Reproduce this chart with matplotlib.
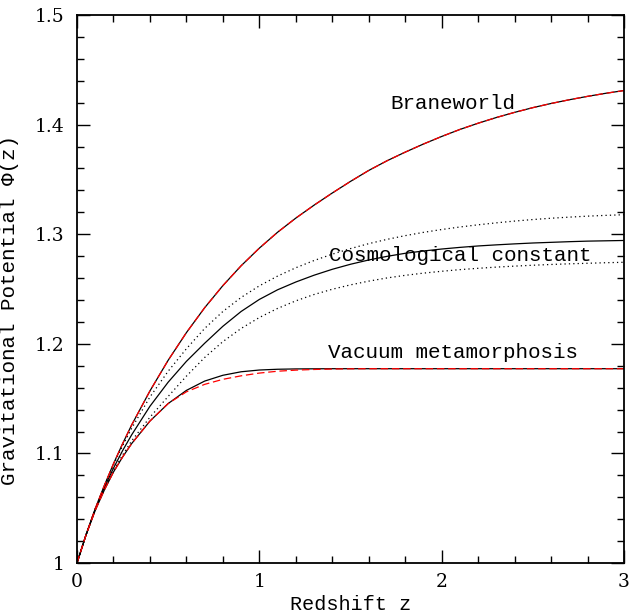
import matplotlib

matplotlib.use("Agg")

import matplotlib.pyplot as plt
from matplotlib.ticker import MultipleLocator


# redshift grid the curves were read on (finer near z = 0 where they bend most)
z = [0.0, 0.05, 0.1, 0.15, 0.2, 0.25, 0.3, 0.4, 0.5, 0.6, 0.7, 0.8, 0.9, 1.0,
     1.1, 1.2, 1.3, 1.4, 1.5, 1.6, 1.7, 1.8, 1.9, 2.0,
     2.1, 2.2, 2.3, 2.4, 2.5, 2.6, 2.7, 2.8, 2.9, 3.0]

braneworld = [1.0000, 1.0259, 1.0495, 1.0707, 1.0905, 1.1088, 1.1260, 1.1570, 1.1850, 1.2102, 1.2329,
              1.2531, 1.2712, 1.2873, 1.3018, 1.3147, 1.3265, 1.3376, 1.3482, 1.3582, 1.3670,
              1.3749, 1.3823, 1.3892, 1.3956, 1.4013, 1.4065, 1.4112, 1.4155, 1.4193, 1.4227,
              1.4258, 1.4286, 1.4311]

lcdm_upper = [1.0000, 1.0259, 1.0495, 1.0703, 1.0895, 1.1069, 1.1230, 1.1515, 1.1750, 1.1955, 1.2140,
              1.2295, 1.2423, 1.2529, 1.2618, 1.2694, 1.2760, 1.2818, 1.2869, 1.2914, 1.2953,
              1.2987, 1.3017, 1.3043, 1.3066, 1.3086, 1.3104, 1.3120, 1.3134, 1.3146, 1.3156,
              1.3165, 1.3172, 1.3178]

lcdm = [1.0000, 1.0259, 1.0490, 1.0689, 1.0865, 1.1025, 1.1170, 1.1430, 1.1650, 1.1840, 1.2005,
        1.2160, 1.2295, 1.2405, 1.2493, 1.2564, 1.2626, 1.2680, 1.2726, 1.2765, 1.2798,
        1.2826, 1.2847, 1.2865, 1.2880, 1.2893, 1.2903, 1.2912, 1.2920, 1.2926, 1.2932,
        1.2937, 1.2940, 1.2943]

lcdm_lower = [1.0000, 1.0259, 1.0485, 1.0673, 1.0840, 1.0985, 1.1115, 1.1330, 1.1520, 1.1705, 1.1875,
              1.2020, 1.2140, 1.2240, 1.2323, 1.2392, 1.2450, 1.2498, 1.2538, 1.2572, 1.2601,
              1.2625, 1.2645, 1.2662, 1.2677, 1.2689, 1.2700, 1.2709, 1.2717, 1.2724, 1.2730,
              1.2735, 1.2740, 1.2744]

vacuum = [1.0000, 1.0258, 1.0480, 1.0666, 1.0830, 1.0967, 1.1090, 1.1295, 1.1455, 1.1575, 1.1660,
          1.1713, 1.1745, 1.1761, 1.1768, 1.1771, 1.1772, 1.1773, 1.1773, 1.1773, 1.1773,
          1.1773, 1.1773, 1.1773, 1.1773, 1.1773, 1.1773, 1.1773, 1.1773, 1.1773, 1.1773,
          1.1773, 1.1773, 1.1773]

vacuum_fit = [1.0000, 1.0258, 1.0480, 1.0666, 1.0830, 1.0967, 1.1090, 1.1295, 1.1455, 1.1562, 1.1630,
              1.1676, 1.1708, 1.1733, 1.1750, 1.1760, 1.1766, 1.1770, 1.1772, 1.1773, 1.1773,
              1.1773, 1.1773, 1.1773, 1.1773, 1.1773, 1.1773, 1.1773, 1.1773, 1.1773, 1.1773,
              1.1773, 1.1773, 1.1773]

labels = ["Braneworld", "Cosmological constant", "Vacuum metamorphosis"]
label_pos = [(2.06, 1.419), (2.10, 1.281), (2.06, 1.1925)]

LABEL_FONT = ["Liberation Mono", "DejaVu Sans Mono"]
TICK_FONT = ["DejaVu Serif"]

plt.rcParams["font.family"] = TICK_FONT

fig = plt.figure(figsize=(6.3, 6.16), dpi=100)
ax = fig.add_axes([0.1222, 0.086, 0.8683, 0.8896])

ax.plot(z, lcdm_upper, color="black", lw=0.9, linestyle=(0, (1, 2.5)))
ax.plot(z, lcdm_lower, color="black", lw=0.9, linestyle=(0, (1, 2.5)))
ax.plot(z, lcdm, color="black", lw=0.9)
ax.plot(z, braneworld, color="black", lw=0.9)
ax.plot(z, braneworld, color="red", lw=0.9, dashes=(6, 3))
ax.plot(z, vacuum, color="black", lw=0.9)
ax.plot(z, vacuum_fit, color="red", lw=0.9, dashes=(6, 3))

for text, (tx, ty) in zip(labels, label_pos):
    ax.text(tx, ty, text, ha="center", va="center", fontsize=15, family=LABEL_FONT)

ax.set_xlim(0, 3)
ax.set_ylim(1, 1.5)
ax.xaxis.set_major_locator(MultipleLocator(1))
ax.xaxis.set_minor_locator(MultipleLocator(0.2))
ax.yaxis.set_minor_locator(MultipleLocator(0.02))
ax.set_yticks([1, 1.1, 1.2, 1.3, 1.4, 1.5])
ax.set_yticklabels(["1", "1.1", "1.2", "1.3", "1.4", "1.5"])

ax.tick_params(which="both", direction="in", top=True, right=True, labelsize=13.5, width=1.0)
ax.tick_params(which="major", length=9.5)
ax.tick_params(which="minor", length=5)
ax.tick_params(axis="x", pad=7)
ax.tick_params(axis="y", pad=9)
for spine in ax.spines.values():
    spine.set_linewidth(1.3)

ax.set_xlabel("Redshift z", fontsize=14.5, labelpad=3, family=LABEL_FONT)
ax.set_ylabel("Gravitational Potential \u03a6(z)", fontsize=15, family=LABEL_FONT)
ax.yaxis.set_label_coords(-0.106, 0.462)

fig.savefig("out.png", dpi=100)
